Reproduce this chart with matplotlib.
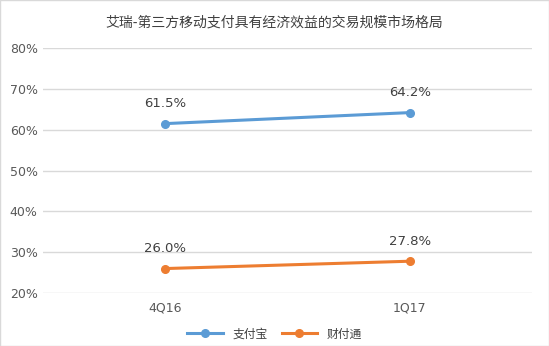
import matplotlib
matplotlib.use("Agg")
import matplotlib.pyplot as plt
from matplotlib.patches import Rectangle

plt.rcParams['font.family'] = ['Noto Sans CJK SC', 'DejaVu Sans']

quarters = ["4Q16", "1Q17"]
alipay = [61.5, 64.2]     # 支付宝
tenpay = [26.0, 27.8]     # 财付通
names = ["支付宝", "财付通"]
colors = ["#5B9BD5", "#ED7D31"]

fig = plt.figure(figsize=(5.49, 3.46), dpi=100)
ax = fig.add_axes([0.0775, 0.153, 0.892, 0.708])

x = range(len(quarters))
for vals, name, c in zip([alipay, tenpay], names, colors):
    ax.plot(x, vals, color=c, lw=2.2, marker="o", ms=5.5, label=name)
    for i, v in enumerate(vals):
        ax.text(i, v + 3.3, f"{v:.1f}%", ha="center", va="bottom",
                fontsize=9.5, color="#404040", family="DejaVu Sans")

ax.set_xlim(-0.5, 1.5)
ax.set_ylim(20, 80)
ax.set_yticks(range(20, 81, 10))
ax.set_yticklabels([f"{t}%" for t in range(20, 81, 10)], family="DejaVu Sans")
ax.set_xticks(list(x))
ax.set_xticklabels(quarters, family="DejaVu Sans")
ax.tick_params(length=0, labelsize=9, labelcolor="#595959")
ax.tick_params(axis="x", pad=6)
ax.grid(axis="y", color="#D9D9D9", lw=1)
ax.set_axisbelow(True)
for s in ax.spines.values():
    s.set_visible(False)

fig.text(0.5, 0.935, "艾瑞-第三方移动支付具有经济效益的交易规模市场格局",
         ha="center", va="center", fontsize=10, color="#404040")
fig.legend(loc="center", bbox_to_anchor=(0.5, 0.035), ncol=2, frameon=False,
           fontsize=8.5, handlelength=3, columnspacing=1.2,
           labelcolor="#404040")
fig.patches.append(Rectangle((0, 0), 1, 1, transform=fig.transFigure,
                             fill=False, ec="#D9D9D9", lw=1))

fig.savefig("out.png", dpi=100)
